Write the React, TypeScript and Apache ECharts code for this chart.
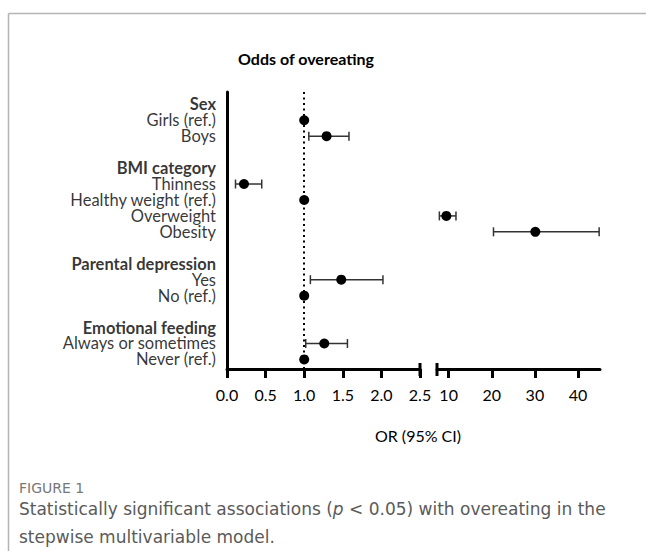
import React, { useEffect, useRef } from "react";
import * as echarts from "echarts";

// ---- data ----
const rowLabels = [
  "Sex", "Girls (ref.)", "Boys", "",
  "BMI category", "Thinness", "Healthy weight (ref.)", "Overweight", "Obesity", "",
  "Parental depression", "Yes", "No (ref.)", "",
  "Emotional feeding", "Always or sometimes", "Never (ref.)",
];
const headerRows = ["Sex", "BMI category", "Parental depression", "Emotional feeding"];
// odds ratios and 95% CI (null = no estimate shown / reference with no CI)
const orValues: (number | null)[] = [null, 1.0, 1.29, null, null, 0.22, 1.0, 9.47, 30.1, null, null, 1.48, 1.0, null, null, 1.26, 1.0];
const ciLower: (number | null)[] = [null, null, 1.06, null, null, 0.11, null, 7.85, 20.4, null, null, 1.08, null, null, null, 1.02, null];
const ciUpper: (number | null)[] = [null, null, 1.58, null, null, 0.45, null, 11.7, 44.9, null, null, 2.02, null, null, null, 1.56, null];
const leftTicks = [0, 0.5, 1.0, 1.5, 2.0, 2.5];
const rightTicks = [10, 20, 30, 40];
const leftRange = [0, 2.5];
const rightRange = [7.3, 45.1];
const breakValue = 2.5;
const refValue = 1.0;

const FONT = "Lato, 'Open Sans', sans-serif";
const CAP_FONT = "'DejaVu Sans', 'Open Sans', sans-serif";

export default function App() {
  const ref = useRef<HTMLDivElement>(null);
  useEffect(() => {
    if (!ref.current) return;
    const chart = echarts.init(ref.current, undefined, { renderer: "svg" });

    const gTop = 92, gH = 277;
    const g0Left = 227, g0W = 193;
    const g1Left = 437, g1W = 163;
    const axisY = gTop + gH;

    const rows = rowLabels.map((_, i) => i);
    const leftPts: number[][] = [];
    const rightPts: number[][] = [];
    const leftBars: number[][] = [];
    const rightBars: number[][] = [];
    rows.forEach((i) => {
      const v = orValues[i];
      if (v == null) return;
      const target = v <= breakValue ? leftPts : rightPts;
      target.push([v, i]);
      const lo = ciLower[i], hi = ciUpper[i];
      if (lo != null && hi != null) {
        (v <= breakValue ? leftBars : rightBars).push([v, i, lo, hi]);
      }
    });
    const labelPts = rows.filter((i) => rowLabels[i] !== "").map((i) => [leftRange[0], i]);

    const renderBar = (params: any, api: any) => {
      const y = api.value(1);
      const p1 = api.coord([api.value(2), y]);
      const p2 = api.coord([api.value(3), y]);
      const st = { stroke: "#333", lineWidth: 1.5 };
      const h = 4.5;
      return {
        type: "group",
        children: [
          { type: "line", shape: { x1: p1[0], y1: p1[1], x2: p2[0], y2: p2[1] }, style: st },
          { type: "line", shape: { x1: p1[0], y1: p1[1] - h, x2: p1[0], y2: p1[1] + h }, style: st },
          { type: "line", shape: { x1: p2[0], y1: p2[1] - h, x2: p2[0], y2: p2[1] + h }, style: st },
        ],
      };
    };

    const yAxisBase = {
      type: "value",
      inverse: true,
      min: -0.77,
      max: 16.6,
      splitLine: { show: false },
      axisTick: { show: false },
      axisLabel: { show: false },
    };

    const xAxisBase = {
      type: "value",
      position: "bottom",
      splitLine: { show: false },
      axisLine: { show: true, onZero: false, lineStyle: { color: "#000", width: 3 } },
      axisTick: { show: true, length: 9, lineStyle: { color: "#000", width: 3 } },
      axisLabel: { color: "#000", fontSize: 16, fontFamily: FONT, margin: 17 },
    };

    chart.setOption({
      animation: false,
      title: [
        {
          text: "Odds of overeating",
          left: 301,
          top: 45,
          textAlign: "center",
          textStyle: { fontFamily: FONT, fontSize: 16, fontWeight: "bold", color: "#000" },
        },
        {
          text: "OR (95% CI)",
          left: 413,
          top: 422,
          textAlign: "center",
          textStyle: { fontFamily: FONT, fontSize: 16, fontWeight: "normal", color: "#000" },
        },
      ],
      grid: [
        { left: g0Left, width: g0W, top: gTop, height: gH },
        { left: g1Left, width: g1W, top: gTop, height: gH },
      ],
      xAxis: [
        {
          ...xAxisBase,
          gridIndex: 0,
          min: leftRange[0],
          max: leftRange[1],
          axisTick: { ...xAxisBase.axisTick, customValues: leftTicks },
          axisLabel: {
            ...xAxisBase.axisLabel,
            customValues: leftTicks,
            formatter: (v: number) => v.toFixed(1),
          },
        },
        {
          ...xAxisBase,
          gridIndex: 1,
          min: rightRange[0],
          max: rightRange[1],
          axisTick: { ...xAxisBase.axisTick, customValues: rightTicks },
          axisLabel: {
            ...xAxisBase.axisLabel,
            customValues: rightTicks,
            formatter: (v: number) => String(v),
          },
        },
      ],
      yAxis: [
        {
          ...yAxisBase,
          gridIndex: 0,
          axisLine: { show: true, onZero: false, lineStyle: { color: "#000", width: 3 } },
        },
        {
          ...yAxisBase,
          gridIndex: 1,
          axisLine: { show: false },
        },
      ],
      series: [
        {
          // row labels, placed through the y scale
          type: "scatter",
          xAxisIndex: 0,
          yAxisIndex: 0,
          symbolSize: 0,
          silent: true,
          clip: false,
          data: labelPts,
          z: 1,
          label: {
            show: true,
            position: "left",
            distance: 11,
            fontFamily: FONT,
            fontSize: 16.5,
            lineHeight: 15,
            color: "#000",
            formatter: (p: any) => {
              const t = rowLabels[p.value[1]];
              return headerRows.includes(t) ? `{b|${t}}` : t;
            },
            rich: { b: { fontWeight: "bold", fontFamily: FONT, fontSize: 16.5, lineHeight: 15, color: "#000" } },
          },
          labelLayout: { hideOverlap: false },
        },
        {
          type: "custom",
          xAxisIndex: 0,
          yAxisIndex: 0,
          renderItem: renderBar,
          data: leftBars,
          encode: { x: 0, y: 1 },
          z: 2,
        },
        {
          type: "custom",
          xAxisIndex: 1,
          yAxisIndex: 1,
          renderItem: renderBar,
          data: rightBars,
          encode: { x: 0, y: 1 },
          z: 2,
        },
        {
          type: "scatter",
          xAxisIndex: 0,
          yAxisIndex: 0,
          symbolSize: 10,
          itemStyle: { color: "#000", opacity: 1 },
          data: leftPts,
          z: 3,
          markLine: {
            silent: true,
            symbol: "none",
            label: { show: false },
            lineStyle: { color: "#000", width: 2, type: [2, 3.5] },
            data: [{ xAxis: refValue }],
          },
        },
        {
          type: "scatter",
          xAxisIndex: 1,
          yAxisIndex: 1,
          symbolSize: 10,
          itemStyle: { color: "#000", opacity: 1 },
          data: rightPts,
          z: 3,
        },
      ],
      graphic: [
        // card frame
        { type: "line", shape: { x1: 8.5, y1: 13.5, x2: 646, y2: 13.5 }, style: { stroke: "#b4b4b4", lineWidth: 1.5 } },
        { type: "line", shape: { x1: 8.5, y1: 13.5, x2: 8.5, y2: 551 }, style: { stroke: "#b4b4b4", lineWidth: 1.5 } },
        // axis break caps
        { type: "line", shape: { x1: g0Left + g0W, y1: axisY - 6, x2: g0Left + g0W, y2: axisY + 7 }, style: { stroke: "#000", lineWidth: 3 } },
        { type: "line", shape: { x1: g1Left, y1: axisY - 6, x2: g1Left, y2: axisY + 7 }, style: { stroke: "#000", lineWidth: 3 } },
        // caption
        {
          type: "text",
          left: 19,
          top: 481,
          style: { text: "FIGURE 1", fontFamily: CAP_FONT, fontSize: 14, fill: "#777", fontWeight: "normal" },
        },
        {
          type: "text",
          left: 19,
          top: 500,
          style: {
            text: "{n|Statistically significant associations (}{i|p}{n| < 0.05) with overeating in the}\n{n|stepwise multivariable model.}",
            rich: {
              n: { fontFamily: CAP_FONT, fontSize: 17, fill: "#5a5a5a", lineHeight: 28 },
              i: { fontFamily: CAP_FONT, fontSize: 17, fill: "#5a5a5a", lineHeight: 28, fontStyle: "italic" },
            },
          },
        },
      ],
    });

    return () => chart.dispose();
  }, []);

  return (
    <div
      ref={ref}
      style={{ position: "fixed", left: 0, top: 0, width: 646, height: 551, background: "#fff" }}
    />
  );
}
